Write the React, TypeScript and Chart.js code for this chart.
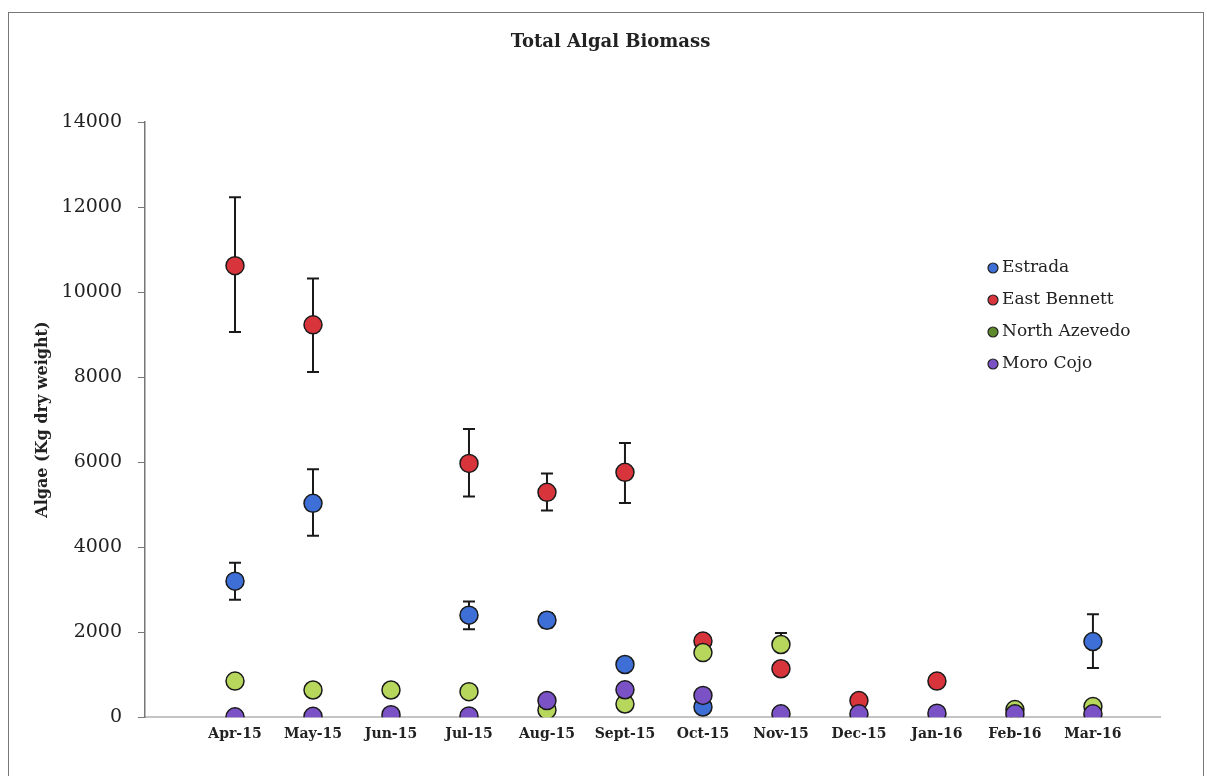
import React, { useEffect, useRef } from "react";
import { Chart, registerables } from "chart.js";

Chart.register(...registerables);

const months = ["Apr-15", "May-15", "Jun-15", "Jul-15", "Aug-15", "Sept-15", "Oct-15", "Nov-15", "Dec-15", "Jan-16", "Feb-16", "Mar-16"];
const yTicks = [0, 2000, 4000, 6000, 8000, 10000, 12000, 14000];

const seriesNames = ["Estrada", "East Bennett", "North Azevedo", "Moro Cojo"];

const estrada = [3200, 5030, null, 2400, 2280, 1240, 240, null, null, null, null, 1780];
const estradaLow = [2760, 4270, null, 2070, 2110, null, null, null, null, null, null, 1160];
const estradaHigh = [3630, 5830, null, 2720, 2450, null, null, null, null, null, null, 2420];

const eastBennett = [10620, 9230, null, 5970, 5290, 5760, 1790, 1140, 390, 850, null, null];
const eastBennettLow = [9060, 8120, null, 5190, 4860, 5040, null, null, null, null, null, null];
const eastBennettHigh = [12230, 10320, null, 6780, 5730, 6450, null, null, null, null, null, null];

const northAzevedo = [850, 640, 640, 600, 170, 310, 1520, 1710, null, null, 180, 250];
const northAzevedoLow = [null, null, null, null, null, null, null, 1550, null, null, null, null];
const northAzevedoHigh = [null, null, null, null, null, null, null, 1980, null, null, null, null];

const moroCojo = [10, 20, 60, 30, 390, 645, 512, 80, 80, 95, 80, 80];
const moroCojoLow = [null, null, null, null, null, null, null, null, null, null, null, null];
const moroCojoHigh = [null, null, null, null, null, null, null, null, null, null, null, null];

const fillColors = ["#3d6fd6", "#d8343c", "#b6d65c", "#7b52c6"];
const legendColors = ["#3d6fd6", "#d8343c", "#5e8a2c", "#7b52c6"];

const values = [estrada, eastBennett, northAzevedo, moroCojo];
const lows = [estradaLow, eastBennettLow, northAzevedoLow, moroCojoLow];
const highs = [estradaHigh, eastBennettHigh, northAzevedoHigh, moroCojoHigh];

const SERIF = "'DejaVu Serif', serif";

const errorBarPlugin = {
  id: "errorBars",
  beforeDatasetsDraw(chart: any) {
    const ctx = chart.ctx;
    const xs = chart.scales.x;
    const ys = chart.scales.y;
    ctx.save();
    ctx.strokeStyle = "#1a1a1a";
    ctx.lineWidth = 2;
    lows.forEach((lo, s) => {
      lo.forEach((l, i) => {
        const h = highs[s][i];
        if (l == null || h == null) return;
        const x = xs.getPixelForValue(i);
        const y1 = ys.getPixelForValue(l);
        const y2 = ys.getPixelForValue(h);
        ctx.beginPath();
        ctx.moveTo(x, y1);
        ctx.lineTo(x, y2);
        ctx.moveTo(x - 6, y1);
        ctx.lineTo(x + 6, y1);
        ctx.moveTo(x - 6, y2);
        ctx.lineTo(x + 6, y2);
        ctx.stroke();
      });
    });
    ctx.restore();
  },
};

const titleLegendPlugin = {
  id: "titleLegend",
  afterDraw(chart: any) {
    const ctx = chart.ctx;
    const area = chart.chartArea;
    ctx.save();
    ctx.fillStyle = "#222";
    ctx.font = `bold 18px ${SERIF}`;
    ctx.textAlign = "center";
    ctx.textBaseline = "middle";
    ctx.fillText("Total Algal Biomass", chart.width / 2 + 7, 42);

    ctx.font = `17px ${SERIF}`;
    ctx.textAlign = "left";
    const lx = area.right - 167;
    const ly = area.top + 146;
    seriesNames.forEach((name, i) => {
      const y = ly + i * 32;
      ctx.beginPath();
      ctx.arc(lx, y, 5, 0, Math.PI * 2);
      ctx.fillStyle = legendColors[i];
      ctx.fill();
      ctx.lineWidth = 1.2;
      ctx.strokeStyle = "#222";
      ctx.stroke();
      ctx.fillStyle = "#222";
      ctx.fillText(name, lx + 9, y);
    });
    ctx.restore();
  },
};

export default function App() {
  const ref = useRef<HTMLCanvasElement | null>(null);

  useEffect(() => {
    if (!ref.current) return;
    const datasets = seriesNames.map((name, s) => ({
      label: name,
      data: values[s]
        .map((v, i) => (v == null ? null : { x: i, y: v }))
        .filter((p) => p !== null),
      backgroundColor: fillColors[s],
      borderColor: "#1a1a1a",
      borderWidth: 1.5,
      pointRadius: 9,
      pointHoverRadius: 9,
      showLine: false,
      order: 3 - s,
    }));

    const chart = new Chart(ref.current, {
      type: "scatter",
      data: { datasets: datasets as any },
      options: {
        animation: false,
        responsive: false,
        maintainAspectRatio: false,
        layout: { padding: { left: 30, right: 47, top: 122, bottom: 24 } },
        plugins: {
          legend: { display: false },
          title: { display: false },
          tooltip: { enabled: false },
        },
        scales: {
          x: {
            type: "linear",
            min: -1.154,
            max: 11.86,
            afterBuildTicks: (scale: any) => {
              scale.ticks = months.map((_, i) => ({ value: i }));
            },
            ticks: {
              autoSkip: false,
              maxRotation: 0,
              padding: 9,
              color: "#222",
              font: { family: SERIF, size: 14, weight: "bold" },
              callback: (v: any) => months[v] ?? "",
            },
            grid: { display: false, drawTicks: false },
            border: { display: true, color: "#c4c4c4", width: 2 },
          },
          y: {
            type: "linear",
            min: 0,
            max: 14000,
            afterBuildTicks: (scale: any) => {
              scale.ticks = yTicks.map((v) => ({ value: v }));
            },
            afterFit: (scale: any) => {
              scale.width = 115;
            },
            ticks: {
              padding: 16,
              color: "#222",
              font: { family: SERIF, size: 19 },
              callback: (v: any) => String(v),
            },
            grid: {
              display: true,
              drawOnChartArea: false,
              drawTicks: true,
              tickLength: 7,
              color: "#777",
            },
            border: { display: true, color: "#777", width: 1.5 },
            title: {
              display: true,
              text: "Algae (Kg dry weight)",
              color: "#222",
              font: { family: SERIF, size: 16, weight: "bold" },
              padding: { top: 3, bottom: 0 },
            },
          },
        },
      },
      plugins: [errorBarPlugin, titleLegendPlugin],
    });
    return () => chart.destroy();
  }, []);

  return (
    <div style={{ position: "fixed", left: 0, top: 0, width: 1207, height: 776, background: "#fff" }}>
      <div
        style={{
          position: "absolute",
          left: 8,
          top: 12,
          width: 1196,
          height: 800,
          border: "1.5px solid #777",
          boxSizing: "border-box",
        }}
      />
      <canvas ref={ref} width={1207} height={776} style={{ position: "absolute", left: 0, top: 0 }} />
    </div>
  );
}
